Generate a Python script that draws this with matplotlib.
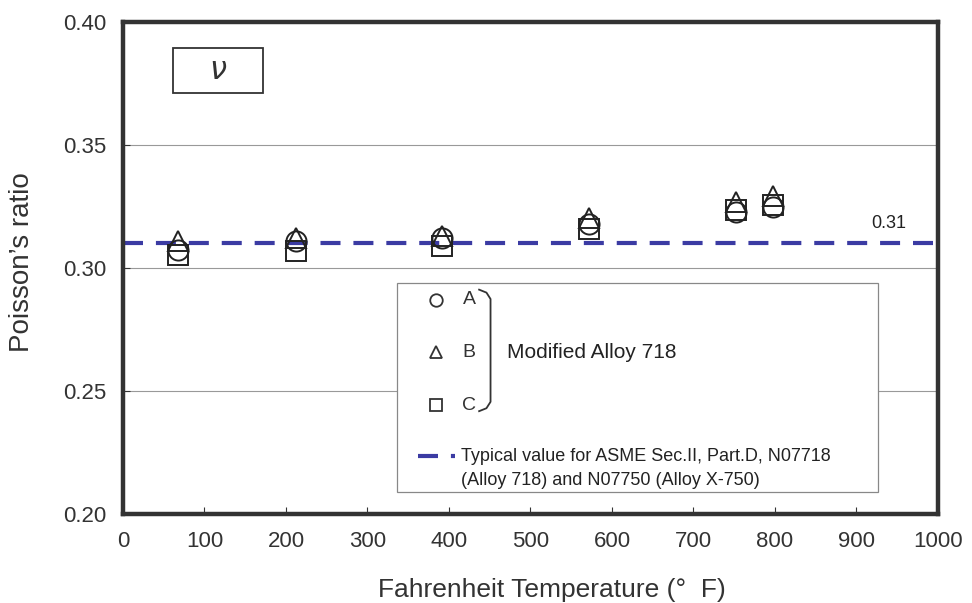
import matplotlib
matplotlib.use('Agg')
import matplotlib.pyplot as plt
from matplotlib.patches import Rectangle
from matplotlib.lines import Line2D

# ---------------------------------------------------------------------------
# data (temperature in deg F, Poisson's ratio)
temp_F   = [68, 212, 392, 572, 752, 797]
nu_A     = [0.3073, 0.3110, 0.3120, 0.3180, 0.3228, 0.3248]
nu_B     = [0.3110, 0.3120, 0.3130, 0.3203, 0.3268, 0.3293]
nu_C     = [0.3053, 0.3070, 0.3090, 0.3160, 0.3236, 0.3256]
typical  = 0.31

x_ticks  = [0, 100, 200, 300, 400, 500, 600, 700, 800, 900, 1000]
y_ticks  = [0.20, 0.25, 0.30, 0.35, 0.40]

plt.rcParams['font.family'] = ['Liberation Sans', 'DejaVu Sans']

fig = plt.figure(figsize=(9.72, 6.03), dpi=100)
ax = fig.add_axes([0.1265, 0.1476, 0.8385, 0.8159])

SPINE = '#333333'
LINE  = '#3b3ba3'
DASH  = (0, (4.8, 3.1))

ax.axhline(typical, color=LINE, lw=3, ls=DASH, zorder=2)

mk = dict(ls='none', mfc='none', mec='#222222', mew=1.4, zorder=3)
ax.plot(temp_F, nu_C, marker='s', ms=14.5, **mk)
ax.plot(temp_F, nu_A, marker='o', ms=14.5, **mk)
ax.plot(temp_F, nu_B, marker='^', ms=14.5, **mk)

ax.text(940, typical + 0.0045, '0.31', fontsize=13, ha='center', va='bottom',
        color='#222222')

ax.set_xlim(0, 1000)
ax.set_ylim(0.20, 0.40)
ax.set_xticks(x_ticks)
ax.set_yticks(y_ticks)
ax.set_yticklabels([f'{v:.2f}' for v in y_ticks])
ax.yaxis.grid(True, color='#999999', lw=0.8)
ax.set_axisbelow(True)
ax.tick_params(direction='in', length=5, width=0.8, labelsize=16,
               colors='#333333', pad=12)
for s in ax.spines.values():
    s.set_linewidth(3.2)
    s.set_color(SPINE)

ax.set_xlabel('Fahrenheit Temperature (\u00b0  F)', fontsize=19, color='#333333')
ax.set_ylabel('Poisson\u2019s ratio', fontsize=20, color='#333333')
ax.xaxis.set_label_coords(0.526, -0.131)
ax.yaxis.set_label_coords(-0.108, 0.512)

# --- nu label box ---
ax.add_patch(Rectangle((0.0613, 0.856), 0.111, 0.091, transform=ax.transAxes,
                       fill=False, ec='#333333', lw=1.3, zorder=4))
ax.text(0.117, 0.9015, r'$\nu$', transform=ax.transAxes, fontsize=22,
        ha='center', va='center', color='#333333', family='DejaVu Serif')

# --- hand-made legend ---
ax.add_patch(Rectangle((0.336, 0.0447), 0.590, 0.4248, transform=ax.transAxes,
                       fc='white', ec='#888888', lw=0.9, zorder=5))
leg_y = [0.435, 0.329, 0.221]
for m, lab, yy in zip(['o', '^', 's'], ['A', 'B', 'C'], leg_y):
    ax.add_line(Line2D([0.384], [yy], transform=ax.transAxes, marker=m,
                       ms=9, ls='none', mfc='none',
                       mec='#333333', mew=1.3, zorder=6))
    ax.text(0.425, yy, lab, transform=ax.transAxes, fontsize=14,
            ha='center', va='center', color='#333333', zorder=6)
# bracket
bx = [0.437, 0.446, 0.451, 0.451, 0.446, 0.437]
by = [0.456, 0.450, 0.437, 0.228, 0.215, 0.209]
ax.add_line(Line2D(bx, by, transform=ax.transAxes, color='#333333', lw=1.3,
                   zorder=6))
ax.text(0.471, 0.329, 'Modified Alloy 718', transform=ax.transAxes,
        fontsize=15, ha='left', va='center', color='#222222', zorder=6)
ax.add_line(Line2D([0.362, 0.408], [0.117, 0.117], transform=ax.transAxes,
                   color=LINE, lw=3, ls=DASH, zorder=6))
ax.text(0.415, 0.117, 'Typical value for ASME Sec.II, Part.D, N07718',
        transform=ax.transAxes, fontsize=13, ha='left', va='center',
        color='#222222', zorder=6)
ax.text(0.415, 0.068, '(Alloy 718) and N07750 (Alloy X-750)',
        transform=ax.transAxes, fontsize=13, ha='left', va='center',
        color='#222222', zorder=6)

fig.savefig('out.png', dpi=100)
